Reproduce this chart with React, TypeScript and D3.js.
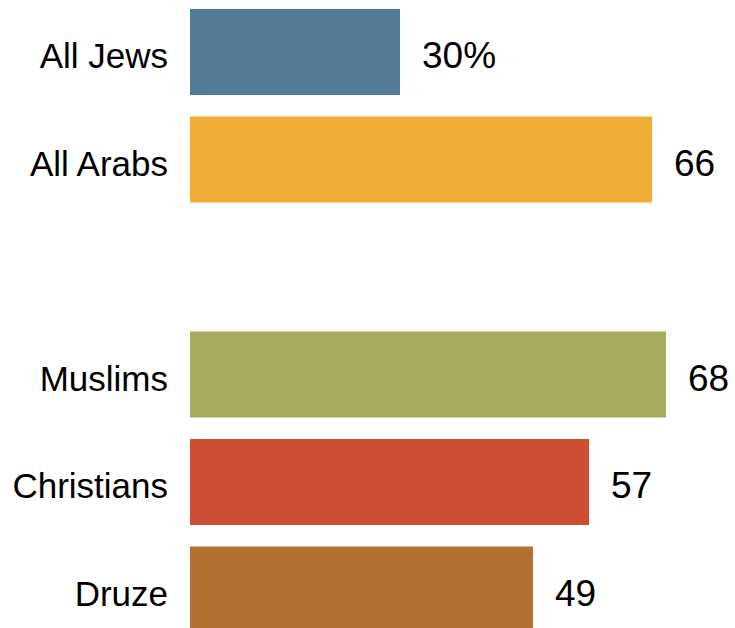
import React from "react";
import * as d3 from "d3";

const categories = ["All Jews", "All Arabs", "", "Muslims", "Christians", "Druze"];
const values: (number | null)[] = [30, 66, null, 68, 57, 49];
const valueLabels = ["30%", "66", "", "68", "57", "49"];
const colors = ["#557c96", "#efac37", "none", "#a8aa5c", "#cd4e33", "#b47032"];

const W = 735;
const H = 628;

export default function App() {
  const x = d3.scaleLinear().domain([0, 100]).range([190, 890]);
  const y = d3
    .scaleBand<string>()
    .domain(categories.map((c, i) => String(i)))
    .range([9, 632.5])
    .paddingInner(0.2)
    .paddingOuter(0);
  const bw = y.bandwidth();
  return (
    <svg
      width={W}
      height={H}
      style={{ position: "absolute", left: 0, top: 0, background: "#fff" }}
    >
      {categories.map((c, i) => {
        const v = values[i];
        if (v == null) return null;
        const y0 = y(String(i)) as number;
        const cy = y0 + bw / 2;
        return (
          <g key={i}>
            <rect x={x(0)} y={y0} width={x(v) - x(0)} height={bw} fill={colors[i]} />
            <text
              x={168}
              y={cy + 16}
              textAnchor="end"
              fontFamily="'Liberation Sans', Arial, sans-serif"
              fontSize={35}
              fill="#000"
            >
              {c}
            </text>
            <text
              x={x(v) + 22}
              y={cy + 16}
              textAnchor="start"
              fontFamily="'Liberation Sans', Arial, sans-serif"
              fontSize={37}
              fill="#000"
            >
              {valueLabels[i]}
            </text>
          </g>
        );
      })}
    </svg>
  );
}
